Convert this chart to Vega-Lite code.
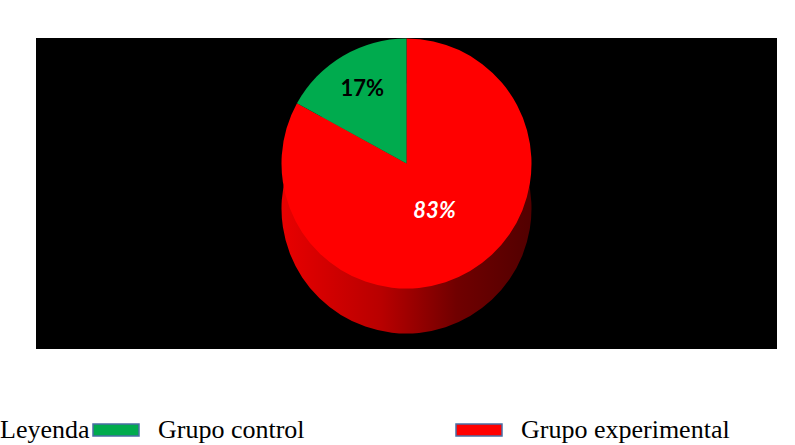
{
  "$schema": "https://vega.github.io/schema/vega-lite/v6.json",
  "width": 741,
  "height": 311,
  "autosize": {"type": "none"},
  "padding": {"left": 36, "top": 38, "right": 18, "bottom": 96},
  "background": "white",
  "view": {"fill": "black", "stroke": null},
  "data": {
    "values": [
      {"grupo": "Grupo experimental", "valor": 83, "etiqueta": "83%"},
      {"grupo": "Grupo control", "valor": 17, "etiqueta": "17%"}
    ]
  },
  "encoding": {
    "theta": {"field": "valor", "type": "quantitative", "stack": true},
    "order": {"field": "grupo", "type": "nominal", "sort": "descending"}
  },
  "layer": [
    {
      "mark": {
        "type": "arc",
        "radius": 125,
        "yOffset": 15,
        "fill": {
          "gradient": "linear",
          "x1": 0, "y1": 0, "x2": 1, "y2": 0,
          "stops": [
            {"offset": 0, "color": "#e80000"},
            {"offset": 0.4, "color": "#b80000"},
            {"offset": 0.7, "color": "#700000"},
            {"offset": 1, "color": "#520000"}
          ]
        }
      },
      "encoding": {}
    },
    {
      "mark": {"type": "arc", "radius": 125, "yOffset": -30},
      "encoding": {
        "color": {
          "field": "grupo",
          "type": "nominal",
          "scale": {"domain": ["Grupo control", "Grupo experimental"], "range": ["#00ab4e", "#ff0000"]},
          "legend": {
            "title": "Leyenda",
            "orient": "none",
            "legendX": -36,
            "legendY": 368,
            "direction": "horizontal",
            "titleOrient": "left",
            "titleFont": "Liberation Serif",
            "titleFontSize": 26,
            "titleFontWeight": "normal",
            "titleColor": "black",
            "titlePadding": 2,
            "titleAnchor": "middle",
            "titleBaseline": "line-top",
            "titleLineHeight": 10,
            "labelFont": "Liberation Serif",
            "labelFontSize": 26,
            "labelColor": "black",
            "labelLimit": 0,
            "labelOffset": 18,
            "columnPadding": 148,
            "symbolType": "M-1,-0.26H1V0.26H-1Z",
            "symbolSize": 2116,
            "symbolStrokeColor": "#4a6fa5",
            "symbolStrokeWidth": 1.5,
            "symbolOpacity": 1
          }
        }
      }
    },
    {
      "mark": {"type": "text", "radius": 87, "yOffset": -30, "font": "Lato", "fontSize": 22, "fontWeight": "bold", "fill": "black"},
      "encoding": {
        "text": {"condition": {"test": "datum.grupo === 'Grupo control'", "field": "etiqueta"}, "value": ""}
      }
    },
    {
      "mark": {"type": "text", "radius": 55, "yOffset": -30, "font": "Lato", "fontSize": 22, "fontWeight": "bold", "fontStyle": "italic", "fill": "white"},
      "encoding": {
        "text": {"condition": {"test": "datum.grupo === 'Grupo experimental'", "field": "etiqueta"}, "value": ""}
      }
    }
  ]
}
